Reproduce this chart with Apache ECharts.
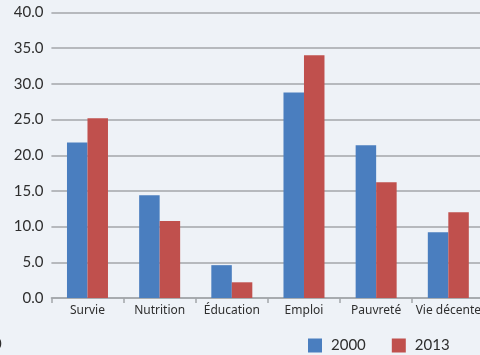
<!DOCTYPE html>
<html>
<head>
<meta charset="utf-8">
<script src="https://cdn.jsdelivr.net/npm/echarts@6/dist/echarts.min.js"></script>
<style>
  html, body { margin: 0; padding: 0; background: #eef2f7; }
  #chart { width: 480px; height: 355px; }
</style>
</head>
<body>
<div id="chart"></div>
<script>
// Dimensions of well-being, 2000 vs 2013
var categories = ['Survie', 'Nutrition', 'Éducation', 'Emploi', 'Pauvreté', 'Vie décente'];
var values2000 = [21.8, 14.4, 4.6, 28.8, 21.4, 9.2];
var values2013 = [25.2, 10.8, 2.2, 34.0, 16.2, 12.0];
var seriesNames = ['2000', '2013'];

var textColor = '#2e2e2e';
var numberFont = 'Lato, "Noto Sans", sans-serif';
var labelFont = '"Noto Sans", "Liberation Sans", sans-serif';

var chart = echarts.init(document.getElementById('chart'), null, { renderer: 'canvas' });
chart.setOption({
  backgroundColor: '#eef2f7',
  animation: false,
  color: ['#4a7ebf', '#c0504d'],
  grid: {
    left: 51.4, width: 433, top: 12.5, height: 285.5,
    containLabel: false, outerBoundsMode: 'none'
  },
  legend: {
    data: seriesNames,
    left: 308,
    top: 338,
    padding: 0,
    itemWidth: 14,
    itemHeight: 14,
    itemGap: 26,
    icon: 'rect',
    textStyle: { color: textColor, fontSize: 15, fontFamily: numberFont, padding: [0, 0, 0, 4] }
  },
  xAxis: {
    type: 'category',
    data: categories,
    axisLine: { lineStyle: { color: '#a3a6aa', width: 1.5 } },
    axisTick: { show: true, length: 5, alignWithLabel: false, lineStyle: { color: '#a3a6aa', width: 1.5 } },
    axisLabel: { color: textColor, fontSize: 12, fontFamily: labelFont, margin: 7, interval: 0 }
  },
  yAxis: {
    type: 'value',
    min: 0,
    max: 40,
    interval: 5,
    axisLine: { show: false },
    axisTick: { show: false },
    axisLabel: {
      color: textColor, fontSize: 15, fontFamily: numberFont, margin: 8,
      formatter: function (v) { return v.toFixed(1); }
    },
    splitLine: { lineStyle: { color: '#a3a6aa', width: 1.5 } }
  },
  series: [
    { name: seriesNames[0], type: 'bar', data: values2000, barWidth: 20.5, barGap: '0%' },
    { name: seriesNames[1], type: 'bar', data: values2013, barWidth: 20.5, barGap: '0%' }
  ],
  graphic: [
    {
      type: 'text', left: -7, top: 337,
      style: { text: '0', fill: textColor, font: '15px ' + numberFont }
    }
  ]
});
</script>
</body>
</html>
